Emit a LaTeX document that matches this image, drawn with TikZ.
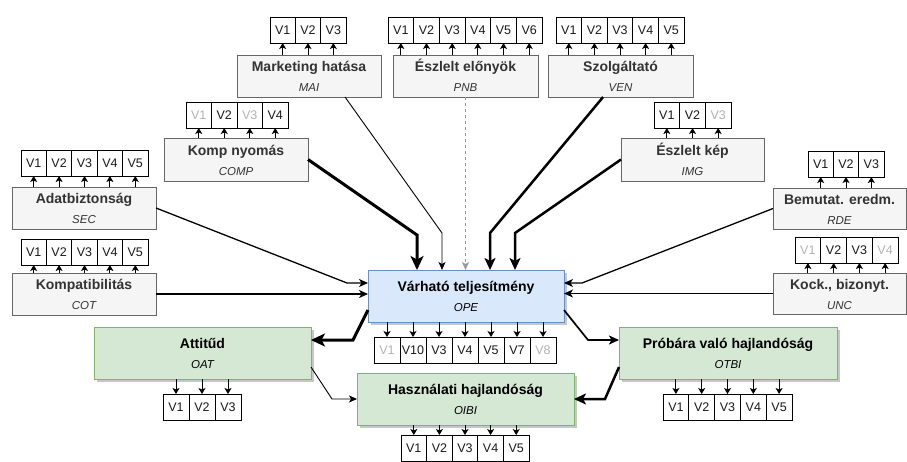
\documentclass[tikz,border=0pt]{standalone}
\usepackage{fontspec}
\setmainfont{Liberation Sans}
\usetikzlibrary{arrows.meta,calc,shadows}
\definecolor{gfill}{HTML}{F5F5F5}
\definecolor{gline}{HTML}{666666}
\definecolor{gtext}{HTML}{333333}
\definecolor{bfill}{HTML}{DAE8FC}
\definecolor{bline}{HTML}{6C8EBF}
\definecolor{nfill}{HTML}{D5E8D4}
\definecolor{nline}{HTML}{82B366}
\definecolor{lg}{HTML}{B3B3B3}
\definecolor{dk}{HTML}{1A1A1A}
\tikzset{
 basebox/.style={rectangle, inner sep=0pt, outer sep=0pt, line width=1pt},
 greybox/.style={basebox, draw=gline, fill=gfill},
 bluebox/.style={basebox, draw=bline, fill=bfill, drop shadow={shadow xshift=2.5pt, shadow yshift=-2.5pt, fill=black, opacity=0.22}},
 greenbox/.style={basebox, draw=nline, fill=nfill, drop shadow={shadow xshift=2.5pt, shadow yshift=-2.5pt, fill=black, opacity=0.22}},
 ttl/.style={font=\fontsize{14}{16}\selectfont\bfseries, inner sep=0pt, anchor=base},
 subt/.style={font=\fontsize{11.5}{13}\selectfont\itshape, inner sep=0pt, anchor=base},
 cell/.style={rectangle, draw=black, line width=0.9pt, fill=white, inner sep=0pt, outer sep=0pt, minimum height=26pt, font=\fontsize{12.5}{14}\selectfont},
 ind/.style={line width=0.9pt, -{Stealth[length=6pt,width=7pt,inset=1.5pt]}},
 lkA/.style={line width=0.9pt, -{Stealth[length=8pt,width=7pt,inset=2pt]}},
 lkB/.style={line width=1.3pt, -{Stealth[length=9pt,width=8pt,inset=2.5pt]}},
 lkC/.style={line width=1.7pt, -{Stealth[length=10pt,width=9pt,inset=2.5pt]}},
 lkD/.style={line width=2.5pt, -{Stealth[length=12pt,width=11pt,inset=3pt]}},
 lkE/.style={line width=3pt, -{Stealth[length=14pt,width=13pt,inset=3.5pt]}},
 dsh/.style={draw=gray!80, line width=0.9pt, dash pattern=on 3pt off 3pt, -{Stealth[length=8pt,width=7pt,inset=2pt]}},
}
% #1 name, #2 style, #3 text colour, #4 xl, #5 yt, #6 xr, #7 yb, #8 title, #9 subtitle
\newcommand\mkbox[9]{%
 \node[#2, minimum width={#6pt-#4pt}, minimum height={#7pt-#5pt}] (#1) at ({(#4+#6)/2},{(#5+#7)/2}) {};
 \node[ttl, text=#3] (#1t) at ([yshift=4.5pt]#1.center) {#8};
 \node[subt, text=#3] (#1s) at ([yshift=-15.5pt]#1.center) {#9};
}
% #1 prefix, #2 xl, #3 yt, #4 cell width, #5 list, #6 box name
\newcommand\rowup[6]{%
 \foreach \lab/\col [count=\i] in {#5}{%
  \node[cell, text=\col, minimum width=#4pt] (#1\i) at ({#2+(\i-0.5)*#4},{#3+13}) {\lab};
  \draw[ind] (#1\i.south |- #6.north) -- (#1\i.south);
 }}
\newcommand\rowdown[6]{%
 \foreach \lab/\col [count=\i] in {#5}{%
  \node[cell, text=\col, minimum width=#4pt] (#1\i) at ({#2+(\i-0.5)*#4},{#3+13}) {\lab};
  \draw[ind] (#1\i.north |- #6.south) -- (#1\i.north);
 }}
\begin{document}
\begin{tikzpicture}[x=1pt,y=-1pt]
\fill[white] (0,0) rectangle (907,461);
\useasboundingbox (0,0) rectangle (907,461);
% boxes
\mkbox{MAI}{greybox}{gtext}{237}{55}{381}{97}{Marketing hatása}{MAI}
\mkbox{PNB}{greybox}{gtext}{393}{55}{538}{97}{Észlelt előnyök}{PNB}
\mkbox{VEN}{greybox}{gtext}{548}{55}{693}{97}{Szolgáltató}{VEN}
\mkbox{COMP}{greybox}{gtext}{164}{138}{308}{181}{Komp nyomás}{COMP}
\mkbox{IMG}{greybox}{gtext}{621}{138}{764}{181}{Észlelt kép}{IMG}
\mkbox{SEC}{greybox}{gtext}{12}{187}{156}{229}{Adatbiztonság}{SEC}
\mkbox{COT}{greybox}{gtext}{12}{273}{156}{315}{Kompatibilitás}{COT}
\mkbox{RDE}{greybox}{gtext}{773}{188}{906}{229}{Bemutat. eredm.}{RDE}
\mkbox{UNC}{greybox}{gtext}{773}{273}{906}{314}{Kock., bizonyt.}{UNC}
\mkbox{OPE}{bluebox}{black}{368}{270}{564}{322}{Várható teljesítmény}{OPE}
\mkbox{OAT}{greenbox}{black}{94}{327}{311}{379}{Attitűd}{OAT}
\mkbox{OIBI}{greenbox}{black}{357}{373}{574}{425}{Használati hajlandóság}{OIBI}
\mkbox{OTBI}{greenbox}{black}{619}{327}{837}{379}{Próbára való hajlandóság}{OTBI}
% indicator rows
\rowup{MAIv}{270}{17}{25.33}{V1/dk,V2/dk,V3/dk}{MAI}
\rowup{PNBv}{388}{17}{25.67}{V1/dk,V2/dk,V3/dk,V4/dk,V5/dk,V6/dk}{PNB}
\rowup{VENv}{556}{17}{25.6}{V1/dk,V2/dk,V3/dk,V4/dk,V5/dk}{VEN}
\rowup{COMPv}{186}{102}{25.5}{V1/lg,V2/dk,V3/lg,V4/dk}{COMP}
\rowup{IMGv}{654}{102}{25.67}{V1/dk,V2/dk,V3/lg}{IMG}
\rowup{SECv}{21}{150}{25.4}{V1/dk,V2/dk,V3/dk,V4/dk,V5/dk}{SEC}
\rowup{COTv}{21}{239}{25.4}{V1/dk,V2/dk,V3/dk,V4/dk,V5/dk}{COT}
\rowup{RDEv}{808}{151}{25.33}{V1/dk,V2/dk,V3/dk}{RDE}
\rowup{UNCv}{795}{237}{25.75}{V1/lg,V2/dk,V3/dk,V4/lg}{UNC}
\rowdown{OPEv}{374}{337}{26}{V1/lg,V10/dk,V3/dk,V4/dk,V5/dk,V7/dk,V8/lg}{OPE}
\rowdown{OATv}{163}{394}{26}{V1/dk,V2/dk,V3/dk}{OAT}
\rowdown{OIBIv}{401}{435}{25.6}{V1/dk,V2/dk,V3/dk,V4/dk,V5/dk}{OIBI}
\rowdown{OTBIv}{663}{394}{25.8}{V1/dk,V2/dk,V3/dk,V4/dk,V5/dk}{OTBI}
% connectors
\coordinate (a1) at (417,235);
\draw[lkE] (COMP.east) -- (a1) -- (a1 |- OPE.north);
\coordinate (m0) at ($(MAI.south west)!0.75!(MAI.south east)$);
\coordinate (a2) at (442,233);
\draw[lkA] (m0) -- (a2) -- (a2 |- OPE.north);
\draw[dsh] (PNB.south) -- (PNB.south |- OPE.north);
\coordinate (v0) at ($(VEN.south west)!0.38!(VEN.south east)$);
\coordinate (a3) at (490,233);
\draw[lkD] (v0) -- (a3) -- (a3 |- OPE.north);
\coordinate (a4) at (515,233);
\draw[lkD] (IMG.west) -- (a4) -- (a4 |- OPE.north);
\coordinate (a5) at (347,283);
\draw[lkB] (SEC.east) -- (a5) -- (OPE.west |- a5);
\draw[lkB] (COT.east) -- (COT.east -| OPE.west);
\coordinate (a6) at (582,283);
\draw[lkB] (RDE.west) -- (a6) -- (OPE.east |- a6);
\draw[lkB] (UNC.west) -- (UNC.west -| OPE.east);
\coordinate (o1) at ($(OPE.south west)!0.23!(OPE.north west)$);
\coordinate (a7) at (353,340);
\draw[lkE] (o1) -- (a7) -- (OAT.east |- a7);
\coordinate (o2) at ($(OPE.south east)!0.23!(OPE.north east)$);
\coordinate (a8) at (588,340);
\draw[lkC] (o2) -- (a8) -- (OTBI.west |- a8);
\coordinate (o3) at ($(OAT.south east)!0.23!(OAT.north east)$);
\coordinate (a9) at (332,399);
\draw[lkA] (o3) -- (a9) -- (OIBI.west |- a9);
\coordinate (o4) at ($(OTBI.south west)!0.23!(OTBI.north west)$);
\coordinate (a10) at (605,399);
\draw[lkD] (o4) -- (a10) -- (OIBI.east |- a10);
\end{tikzpicture}
\end{document}
